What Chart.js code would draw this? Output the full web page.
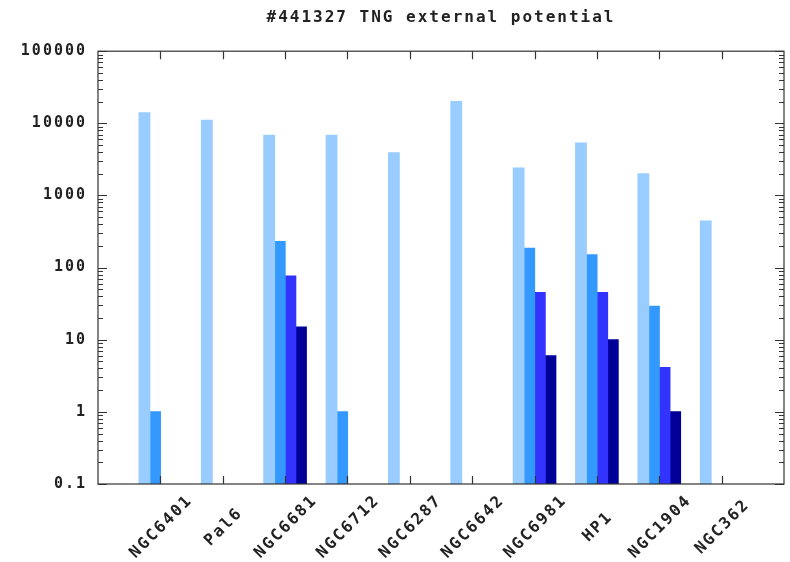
<!DOCTYPE html>
<html>
<head>
<meta charset="utf-8">
<script src="https://cdn.jsdelivr.net/npm/chart.js@4"></script>
<style>
  html, body { margin: 0; padding: 0; background: #fff; }
  #wrap { width: 790px; height: 562px; }
</style>
</head>
<body>
<div id="wrap"><canvas id="grafica" width="790" height="562"></canvas></div>
<script>
// datos
const categorias = ['NGC6401', 'Pal6', 'NGC6681', 'NGC6712', 'NGC6287', 'NGC6642', 'NGC6981', 'HP1', 'NGC1904', 'NGC362'];
const serie1 = [14000, 11000, 6800, 6800, 3900, 20000, 2400, 5300, 2000, 440];
const serie2 = [1, null, 230, 1, null, null, 185, 150, 29, null];
const serie3 = [null, null, 76, null, null, null, 45, 45, 4.1, null];
const serie4 = [null, null, 15, null, null, null, 6, 10, 1, null];
const ticksY = [0.1, 1, 10, 100, 1000, 10000, 100000];
const etiquetasY = ['0.1', '1', '10', '100', '1000', '10000', '100000'];

const colores = ['#99ccff', '#3399ff', '#3333ff', '#000099'];
const ESPACIADO = '2px';

function puntos(serie) {
    return serie.map((v, i) => ({ x: i, y: v }));
}

// marco, marcas hacia dentro y etiquetas rotadas del eje x
const marcoPlugin = {
    id: 'marco',
    beforeDraw(chart) {
        chart.ctx.letterSpacing = ESPACIADO;
    },
    afterDraw(chart) {
        const ctx = chart.ctx;
        const a = chart.chartArea;
        const x = chart.scales.x;
        const y = chart.scales.y;
        ctx.save();
        ctx.strokeStyle = '#333';
        ctx.lineWidth = 1.2;

        ctx.beginPath();
        // y: mayores y menores, izquierda y derecha
        for (let e = -1; e <= 5; e++) {
            for (let m = 1; m <= 9; m++) {
                const v = m * Math.pow(10, e);
                if (v > 100000 * 1.0001) break;
                const py = Math.round(y.getPixelForValue(v)) + 0.5;
                const largo = m === 1 ? 9 : 5;
                ctx.moveTo(a.left, py); ctx.lineTo(a.left + largo, py);
                ctx.moveTo(a.right, py); ctx.lineTo(a.right - largo, py);
            }
        }
        // x: abajo y arriba
        categorias.forEach((c, i) => {
            const px = Math.round(x.getPixelForValue(i)) + 0.5;
            ctx.moveTo(px, a.bottom); ctx.lineTo(px, a.bottom - 8);
            ctx.moveTo(px, a.top); ctx.lineTo(px, a.top + 8);
        });
        ctx.stroke();

        ctx.strokeRect(a.left, a.top, a.right - a.left, a.bottom - a.top);

        // etiquetas del eje x
        ctx.letterSpacing = ESPACIADO;
        ctx.fillStyle = '#222';
        ctx.font = 'bold 16px "DejaVu Sans Mono"';
        ctx.textAlign = 'center';
        ctx.textBaseline = 'middle';
        categorias.forEach((c, i) => {
            const px = x.getPixelForValue(i);
            ctx.save();
            ctx.translate(px + 1, a.bottom + 43);
            ctx.rotate(-Math.PI / 4);
            ctx.fillText(c, 0, 0);
            ctx.restore();
        });
        ctx.restore();
    }
};

const ctx = document.getElementById('grafica').getContext('2d');
const grafica = new Chart(ctx, {
    type: 'bar',
    data: {
        datasets: [serie1, serie2, serie3, serie4].map((s, i) => ({
            label: 'serie ' + (i + 1),
            data: puntos(s),
            backgroundColor: colores[i],
            borderWidth: 0,
            inflateAmount: 0.6,
            categoryPercentage: 0.68,
            barPercentage: 1.0
        }))
    },
    options: {
        responsive: false,
        animation: false,
        devicePixelRatio: 1,
        layout: { padding: { left: 6, right: 6, top: 0, bottom: 78 } },
        plugins: {
            legend: { display: false },
            tooltip: { enabled: false },
            title: {
                display: true,
                fullSize: false,
                text: '#441327 TNG external potential',
                color: '#222',
                font: { family: 'DejaVu Sans Mono', size: 16, weight: 'bold', lineHeight: 1.2 },
                padding: { top: 8, bottom: 24 }
            }
        },
        scales: {
            x: {
                type: 'linear',
                display: false,
                offset: false,
                min: -1,
                max: 10
            },
            y: {
                type: 'logarithmic',
                min: 0.1,
                max: 100000,
                grid: { display: false, drawTicks: false },
                border: { display: false },
                afterBuildTicks: (s) => { s.ticks = ticksY.map(v => ({ value: v })); },
                afterFit: (s) => { s.width = 92; },
                ticks: {
                    autoSkip: false,
                    padding: 11,
                    color: '#222',
                    font: { family: 'DejaVu Sans Mono', size: 15, weight: 'bold' },
                    callback: (v, i) => etiquetasY[i]
                }
            }
        }
    },
    plugins: [marcoPlugin]
});
</script>
</body>
</html>
